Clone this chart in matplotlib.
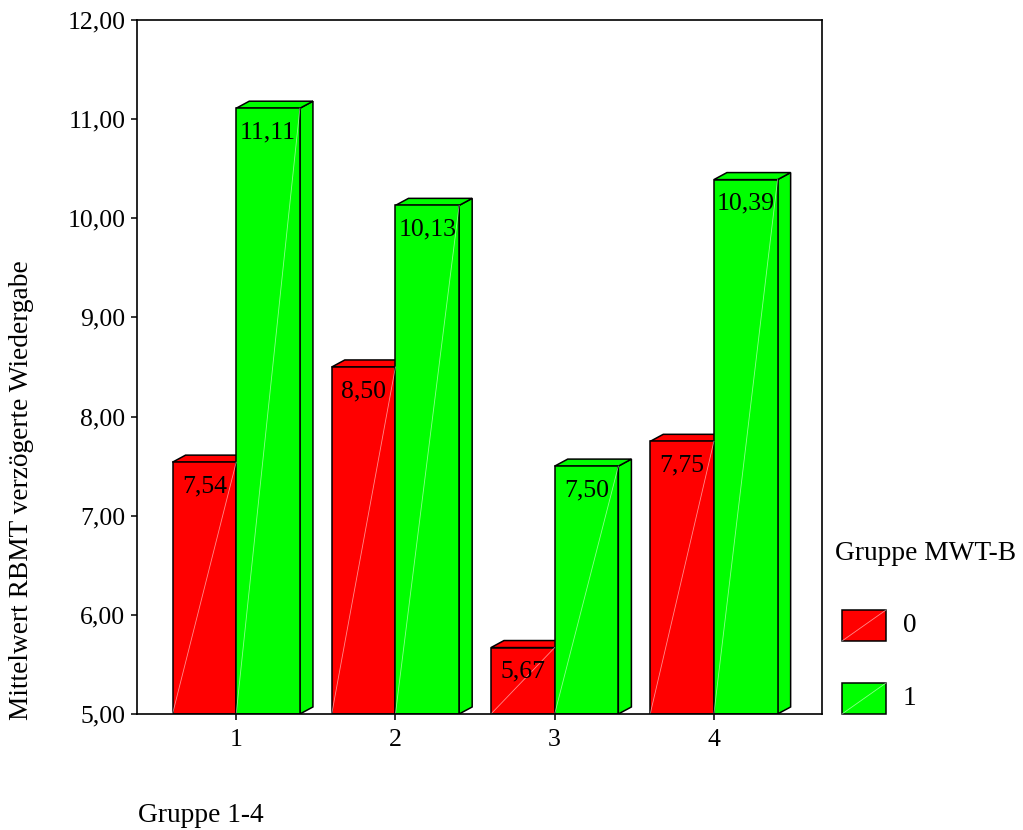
import matplotlib
matplotlib.use("Agg")
import matplotlib.pyplot as plt
from matplotlib.patches import Polygon, Rectangle
from matplotlib.lines import Line2D

plt.rcParams['font.family'] = ['Liberation Serif', 'DejaVu Serif']

# Data
groups = [1, 2, 3, 4]
group_labels = ["1", "2", "3", "4"]
series_names = ["0", "1"]
values_0 = [7.54, 8.50, 5.67, 7.75]
values_1 = [11.11, 10.13, 7.50, 10.39]
colors = ["#FF0000", "#00FF00"]
y_ticks = [5, 6, 7, 8, 9, 10, 11, 12]

W, H = 1023, 830
fig = plt.figure(figsize=(W / 100, H / 100), dpi=100)
ax = fig.add_axes([137 / W, (H - 714) / H, (822 - 137) / W, (714 - 20) / H])

ymin, ymax = 5.0, 12.0
ax.set_xlim(0.377, 4.679)
ax.set_ylim(ymin, ymax)

bar_w = 0.40
dx, dy = 0.082, 0.071  # depth of the 3D extrusion in data units
fs = 18.5       # tick labels and value labels
fs_title = 19.7  # axis titles and legend


def draw_bar(x_left, value, color):
    xr = x_left + bar_w
    # side face
    side = Polygon([(xr, ymin), (xr + dx, ymin + dy), (xr + dx, value + dy), (xr, value)],
                   closed=True, facecolor=color, edgecolor='black', lw=1.1, zorder=2)
    # top face
    top = Polygon([(x_left, value), (x_left + dx, value + dy), (xr + dx, value + dy), (xr, value)],
                  closed=True, facecolor=color, edgecolor='black', lw=1.1, zorder=2)
    ax.add_patch(side)
    ax.add_patch(top)


def draw_front(x_left, value, color):
    front = Rectangle((x_left, ymin), bar_w, value - ymin, facecolor=color,
                      edgecolor='black', lw=1.1, zorder=3)
    ax.add_patch(front)
    ax.plot([x_left, x_left + bar_w], [ymin, value], color='white', lw=0.6,
            alpha=0.55, zorder=3.5)
    ax.annotate(f"{value:.2f}".replace('.', ','), xy=(x_left + bar_w / 2, value),
                xytext=(0, -9.5), textcoords='offset points', ha='center', va='top',
                fontsize=fs, zorder=5)


for g, v0, v1 in zip(groups, values_0, values_1):
    draw_bar(g - bar_w, v0, colors[0])
    draw_front(g - bar_w, v0, colors[0])
    draw_bar(g, v1, colors[1])
    draw_front(g, v1, colors[1])

# Axes styling
for s in ax.spines.values():
    s.set_linewidth(1.2)
    s.set_zorder(6)
ax.set_xticks(groups)
ax.set_xticklabels(group_labels, fontsize=fs)
ax.set_yticks(y_ticks)
ax.set_yticklabels([f"{t:.2f}".replace('.', ',') for t in y_ticks], fontsize=fs)
ax.tick_params(axis='both', direction='out', length=4.5, width=1.1)
ax.tick_params(axis='y', pad=4)
ax.tick_params(axis='x', pad=6)

# Axis titles
fig.text(22 / W, 1 - 490 / H, "Mittelwert RBMT verzögerte Wiedergabe", rotation=90,
         ha='center', va='center', fontsize=fs_title)
fig.text(138 / W, 1 - 815 / H, "Gruppe 1-4", ha='left', va='center', fontsize=fs_title)

# Legend
fig.text(835 / W, 1 - 553 / H, "Gruppe MWT-B", ha='left', va='center', fontsize=fs_title)
leg_tops = [610, 683]
for name, color, top in zip(series_names, colors, leg_tops):
    x0, x1 = 842 / W, 886 / W
    y0, y1 = 1 - (top + 31) / H, 1 - top / H
    fig.patches.append(Rectangle((x0, y0), x1 - x0, y1 - y0, transform=fig.transFigure,
                                 facecolor=color, edgecolor='black', lw=1.1))
    fig.lines.append(Line2D([x0, x1], [y0, y1], transform=fig.transFigure,
                            color='white', lw=0.6, alpha=0.55))
    fig.text(903 / W, (y0 + y1) / 2, name, ha='left', va='center', fontsize=fs_title)

fig.savefig("out.png", dpi=100, facecolor='white')
